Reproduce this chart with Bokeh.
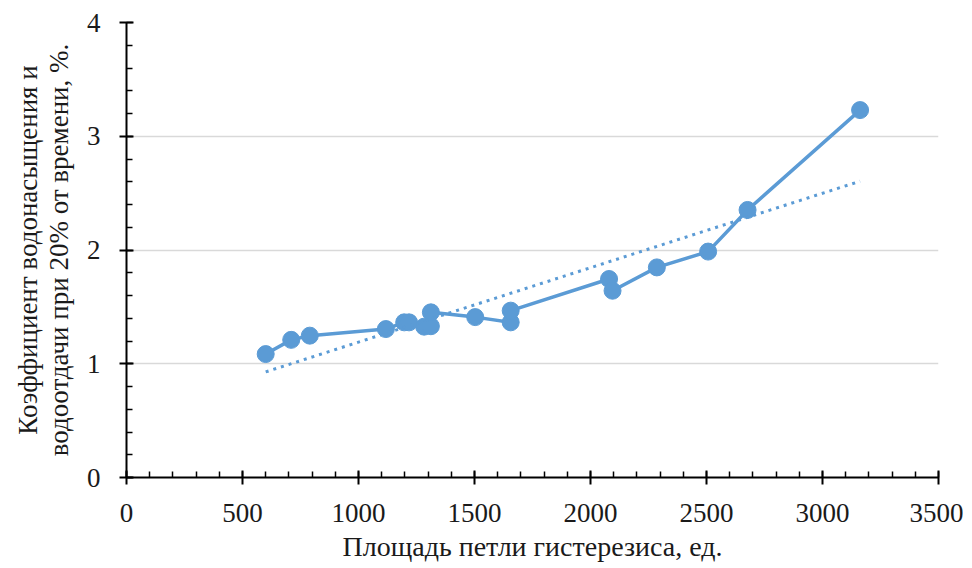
import numpy as np
from bokeh.plotting import figure
from bokeh.models import SingleIntervalTicker, Range1d
from bokeh.embed import file_html
from bokeh.resources import INLINE

# Data
area = [600, 710, 790, 1118, 1197, 1218, 1283, 1312, 1312, 1503, 1656, 1656,
        2080, 2095, 2286, 2507, 2677, 3162]
coef = [1.085, 1.21, 1.247, 1.305, 1.364, 1.364, 1.326, 1.33, 1.452, 1.41, 1.364, 1.467,
        1.745, 1.642, 1.847, 1.986, 2.352, 3.23]

x_ticks_interval = 500
y_ticks_interval = 1

x_label = "Площадь петли гистерезиса, ед."
y_label = "Коэффициент водонасыщения и\nводоотдачи при 20% от времени, %."

BLUE = "#5B9BD5"
FONT = "Liberation Serif"

p = figure(frame_width=812, frame_height=455, width=963, height=566,
           x_range=Range1d(0, 3500), y_range=Range1d(0, 4),
           output_backend="svg", toolbar_location=None,
           min_border_left=126, min_border_top=22, min_border_right=25, min_border_bottom=89)
p.outline_line_color = None
p.background_fill_color = "white"

# Linear trendline (least squares over the series)
k, b = np.polyfit(area, coef, 1)
tx = [min(area), max(area)]
ty = [k * v + b for v in tx]

p.line(area, coef, line_color=BLUE, line_width=3.5)
p.scatter(area, coef, size=17, fill_color=BLUE, line_color=BLUE)
p.line(tx, ty, line_color=BLUE, line_width=3, line_dash="3 5")

p.xaxis.ticker = SingleIntervalTicker(interval=x_ticks_interval, num_minor_ticks=5)
p.yaxis.ticker = SingleIntervalTicker(interval=y_ticks_interval, num_minor_ticks=5)

p.xgrid.grid_line_color = None
p.ygrid.grid_line_color = "#D9D9D9"
p.ygrid.grid_line_width = 1.5

for ax in (p.xaxis[0], p.yaxis[0]):
    ax.axis_line_color = "black"
    ax.axis_line_width = 2
    ax.major_tick_line_color = "black"
    ax.major_tick_line_width = 2
    ax.minor_tick_line_color = "black"
    ax.minor_tick_line_width = 1.5
    ax.major_tick_in = 7
    ax.major_tick_out = 7
    ax.minor_tick_in = 6
    ax.minor_tick_out = 0
    ax.major_label_text_font = FONT
    ax.major_label_text_font_size = "27px"
    ax.major_label_text_color = "#1a1a1a"
    ax.axis_label_text_font = FONT
    ax.axis_label_text_font_style = "normal"
    ax.axis_label_text_color = "#1a1a1a"

p.xaxis.axis_label_text_font_size = "28px"
p.yaxis.axis_label_text_font_size = "27px"
p.yaxis.axis_label_text_line_height = 1.05
p.xaxis.axis_label = x_label
p.yaxis.axis_label = y_label
p.xaxis.major_label_standoff = 19
p.xaxis.axis_label_standoff = 6
p.yaxis.major_label_standoff = 19
p.yaxis.axis_label_standoff = 10

open("out.html", "w").write(file_html(p, INLINE))
